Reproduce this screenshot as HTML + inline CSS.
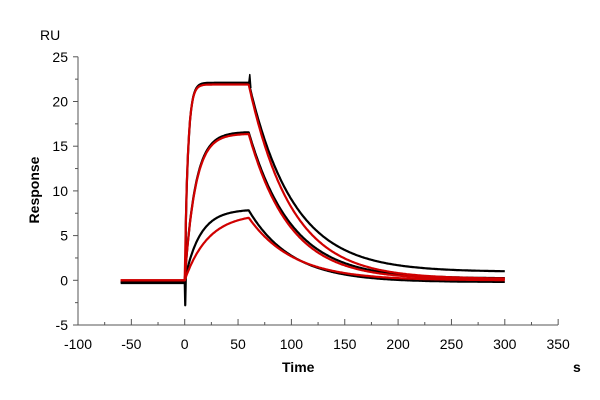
<!DOCTYPE html>
<html><head><meta charset="utf-8"><style>
body{margin:0;background:#fff}
svg{display:block}
text{font-family:"Liberation Sans",Arial,sans-serif;font-size:14px;fill:#000}
</style></head><body>
<svg id="s" width="600" height="400" viewBox="0 0 600 400">
<text x="40" y="40">RU</text>
<text x="573" y="372" font-weight="bold">s</text>
<text x="282" y="372" font-weight="bold">Time</text>
<text transform="translate(39,190) rotate(-90)" text-anchor="middle" font-weight="bold">Response</text>
<g id="ax" stroke="#555" stroke-width="1"></g>
<g id="lbl"></g>
<g id="cv" fill="none" stroke-width="2.2" stroke-linejoin="round"></g>
</svg>
<script>
var X=t=>184.7+t*1.067, Y=v=>280.3-v*8.94;
var ax=document.getElementById('ax'),lbl=document.getElementById('lbl'),cv=document.getElementById('cv');
var h='';
h+='<line x1="78" y1="'+Y(25)+'" x2="78" y2="'+Y(-5)+'"/>';
h+='<line x1="78" y1="'+Y(-5)+'" x2="558" y2="'+Y(-5)+'"/>';
var l='';
for(var v=-5;v<=25;v+=2.5){var maj=(v%5===0);h+='<line x1="'+(maj?73:75)+'" y1="'+Y(v)+'" x2="78" y2="'+Y(v)+'"/>';
 if(maj)l+='<text x="68" y="'+(Y(v)+5)+'" text-anchor="end">'+v+'</text>';}
for(var t=-100;t<=350;t+=25){var maj=(t%50===0);h+='<line x1="'+X(t)+'" y1="'+Y(-5)+'" x2="'+X(t)+'" y2="'+(Y(-5)+(maj?-6:-3))+'"/>';
 if(maj)l+='<text x="'+X(t)+'" y="'+(Y(-5)+24)+'" text-anchor="middle">'+t+'</text>';}
ax.innerHTML=h;lbl.innerHTML=l;
function curve(R,ka,kd,base,col,spike,off){
 var p='',v60=R*(1-Math.exp(-ka*60));
 for(var t=-60;t<=300;t+=1){var v;
  if(t<0)v=(off||0);
  else if(t<=60)v=R*(1-Math.exp(-ka*t));
  else v=base+(v60-base)*Math.exp(-kd*(t-60));
  p+=(p?'L':'M')+X(t).toFixed(1)+' '+Y(v).toFixed(1);
  if(spike&&t===0)p+='L'+X(0.5)+' '+Y(-2.8)+'L'+X(1)+' '+Y(0);
 }
 return '<path d="'+p+'" stroke="'+col+'"/>';
}
var c='';
c+=curve(22.1,0.33,0.024,0.95,'#000',true,-0.3);
c+=curve(16.6,0.1,0.025,0.2,'#000',false,-0.2);
c+=curve(7.95,0.07,0.025,-0.2,'#000',false,-0.2);
c+=curve(21.9,0.34,0.025,0.15,'#d00000',false,0);
c+=curve(16.4,0.1,0.026,0.1,'#d00000',false,0);
c+=curve(7.5,0.045,0.024,0.0,'#d00000',false,0);
c+='<path d="M'+X(60)+' '+Y(22)+'L'+X(61)+' '+Y(23)+'L'+X(62)+' '+Y(21.5)+'" stroke="#000" stroke-width="1.5"/>';
cv.innerHTML=c;
</script>
</body></html>
